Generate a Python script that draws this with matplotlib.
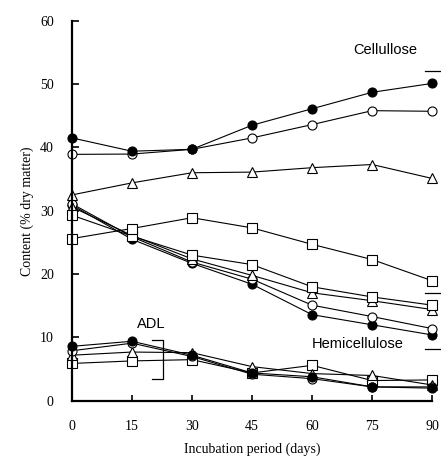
import numpy as np
import matplotlib
matplotlib.use('Agg')
import matplotlib.pyplot as plt

days = [0, 15, 30, 45, 60, 75, 90]

# Cellulose
cel_filled = [41.5, 39.4, 39.7, 43.5, 46.1, 48.7, 50.1]
cel_open = [38.9, 38.95, 39.7, 41.5, 43.6, 45.8, 45.7]
cel_tri = [32.5, 34.4, 36.0, 36.1, 36.8, 37.3, 35.1]
cel_sq = [25.6, 27.2, 28.9, 27.3, 24.7, 22.3, 18.95]

# Hemicellulose
hem_filled = [30.9, 25.5, 21.7, 18.4, 13.6, 12.0, 10.4]
hem_open = [31.1, 25.9, 21.9, 19.2, 15.1, 13.3, 11.4]
hem_tri = [30.6, 26.1, 22.4, 19.8, 17.05, 15.8, 14.4]
hem_sq = [29.3, 26.0, 23.0, 21.5, 18.0, 16.4, 15.1]

# ADL
adl_filled = [8.6, 9.4, 7.2, 4.4, 3.8, 2.2, 2.0]
adl_open = [7.9, 9.1, 7.0, 4.2, 3.5, 2.2, 2.2]
adl_tri = [7.2, 7.7, 7.6, 5.4, 4.3, 4.0, 2.5]
adl_sq = [5.9, 6.3, 6.5, 4.4, 5.6, 3.2, 3.3]

styles = {'filled': dict(marker='o', mfc='black'),
          'open': dict(marker='o', mfc='white'),
          'tri': dict(marker='^', mfc='white'),
          'sq': dict(marker='s', mfc='white')}

plt.rcParams['font.family'] = 'Liberation Serif'
fig = plt.figure(figsize=(4.41, 4.65), dpi=100)
ax = fig.add_axes([0.163, 0.138, 0.817, 0.8175])

groups = [(adl_sq, 'sq'), (adl_tri, 'tri'), (adl_open, 'open'), (adl_filled, 'filled'),
          (hem_filled, 'filled'), (hem_open, 'open'), (hem_tri, 'tri'), (hem_sq, 'sq'),
          (cel_sq, 'sq'), (cel_tri, 'tri'), (cel_open, 'open'), (cel_filled, 'filled')]
for vals, key in groups:
    s = styles[key]
    ms = 7.5 if key == 'tri' else 6.5
    ax.plot(days, vals, color='black', lw=0.8, marker=s['marker'], ms=ms,
            mfc=s['mfc'], mec='black', mew=0.8, clip_on=False)

# LSD bars
ax.plot([88.3, 93], [52.1, 52.1], color='black', lw=0.9, clip_on=False)
ax.plot([88.3, 93], [17.0, 17.0], color='black', lw=0.9, clip_on=False)
ax.plot([88.3, 93], [8.2, 8.2], color='black', lw=0.9, clip_on=False)
ax.plot([20, 22.8, 22.8, 20], [9.6, 9.6, 3.4, 3.4], color='black', lw=0.9)

ax.text(70.2, 55.3, 'Cellullose', family='Liberation Sans', fontsize=10.5, va='center')
ax.text(60.0, 9.0, 'Hemicellulose', family='Liberation Sans', fontsize=10.5, va='center')
ax.text(16.2, 12.1, 'ADL', family='Liberation Sans', fontsize=10.5, va='center')

ax.set_xlim(0, 90)
ax.set_ylim(0, 60)
ax.set_xticks(days)
ax.set_yticks(np.arange(0, 61, 10))
for sp in ['top', 'right']:
    ax.spines[sp].set_visible(False)
for sp in ['left', 'bottom']:
    ax.spines[sp].set_linewidth(1.6)
ax.tick_params(axis='both', direction='in', width=1.2, labelsize=10)
ax.tick_params(axis='y', length=5, pad=13)
ax.tick_params(axis='x', length=4, pad=14)

ax.set_xlabel('Incubation period (days)', fontsize=10, labelpad=7)
ax.set_ylabel('Content (% dry matter)', fontsize=10, labelpad=4)

plt.savefig('out.png', dpi=100)
